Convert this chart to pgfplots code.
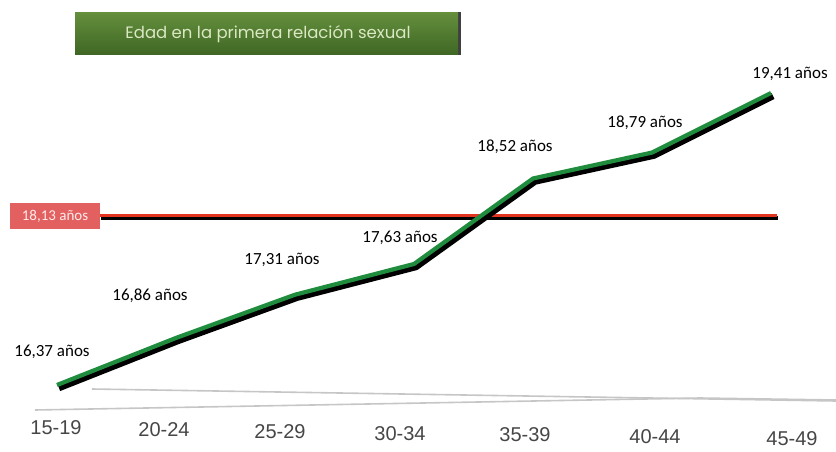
\documentclass[border=0pt]{standalone}
\usepackage{pgfplots}
\pgfplotsset{compat=1.18}
\usepackage{fontspec}
\setmainfont{Carlito}
\newfontfamily\titlefont{Poppins}
\newfontfamily\tickfont{Liberation Sans}

\definecolor{linegreen}{RGB}{32,140,62}
\definecolor{avgred}{RGB}{226,52,30}
\definecolor{boxred}{RGB}{226,96,96}
\definecolor{titletop}{RGB}{100,142,60}
\definecolor{titlebot}{RGB}{62,102,36}
\definecolor{titletext}{RGB}{218,232,196}
\definecolor{ticktext}{RGB}{70,70,70}

\begin{document}
\begin{tikzpicture}[x=1pt,y=1pt]
\path[use as bounding box] (0,0) rectangle (836,451);

% floor of the chart
\draw[gray!45, line width=1.6pt] (92,62) -- (836,50);
\draw[gray!45, line width=1.6pt] (35,41) -- (700,53) -- (836,51);

% title banner
\fill[black!75] (77,396) rectangle (461,439);
\shade[top color=titletop, bottom color=titlebot] (75,396) rectangle (458,438);
\node[text=titletext, font=\titlefont\fontsize{16.5}{16.5}\selectfont] at (268,417) {Edad en la primera relación sexual};

\begin{axis}[
  at={(0,0)}, anchor=south west,
  width=836pt, height=451pt, scale only axis,
  xmin=-0.479, xmax=6.546,
  ymin=15.6828, ymax=20.3783,
  hide axis, clip=false,
]
% average age
\addplot[black, line width=4pt, yshift=-2.5pt, xshift=1pt] coordinates {(0.36,18.13) (6.05,18.13)};
\addplot[avgred, line width=3pt] coordinates {(0.36,18.13) (6.05,18.13)};

% age at first sexual intercourse by age group
\addplot[black, line width=6.5pt, xshift=2pt, yshift=-3pt, line join=round] table {
x y
0 16.37
1 16.86
2 17.31
3 17.63
4 18.52
5 18.79
6 19.41
};
\addplot[linegreen, line width=4.2pt, line join=round] table {
x y
0 16.37
1 16.86
2 17.31
3 17.63
4 18.52
5 18.79
6 19.41
};

\begin{scope}[every node/.style={font=\fontsize{17}{17}\selectfont, text=black}]
\node[shift={(-5pt,33pt)}]  at (axis cs:0,16.37) {16,37 años};
\node[shift={(-26pt,42pt)}] at (axis cs:1,16.86) {16,86 años};
\node[shift={(-13pt,35pt)}] at (axis cs:2,17.31) {17,31 años};
\node[shift={(-14pt,26pt)}] at (axis cs:3,17.63) {17,63 años};
\node[shift={(-18pt,32pt)}] at (axis cs:4,18.52) {18,52 años};
\node[shift={(-7pt,30pt)}]  at (axis cs:5,18.79) {18,79 años};
\node[shift={(19pt,19pt)}]  at (axis cs:6,19.41) {19,41 años};
\end{scope}
\end{axis}

% label of the average line
\node[fill=boxred, text=white!92!red, minimum width=90pt, minimum height=26pt, inner sep=0pt,
      font=\fontsize{15}{15}\selectfont] at (55,235) {18,13 años};

% age groups
\begin{scope}[every node/.style={text=ticktext, font=\tickfont\fontsize{20}{20}\selectfont, inner sep=0pt}]
\node at (56,23) {15-19};
\node at (164,21) {20-24};
\node at (280,19) {25-29};
\node at (400,17) {30-34};
\node at (525,16) {35-39};
\node at (655,14) {40-44};
\node at (792,12) {45-49};
\end{scope}
\end{tikzpicture}
\end{document}
